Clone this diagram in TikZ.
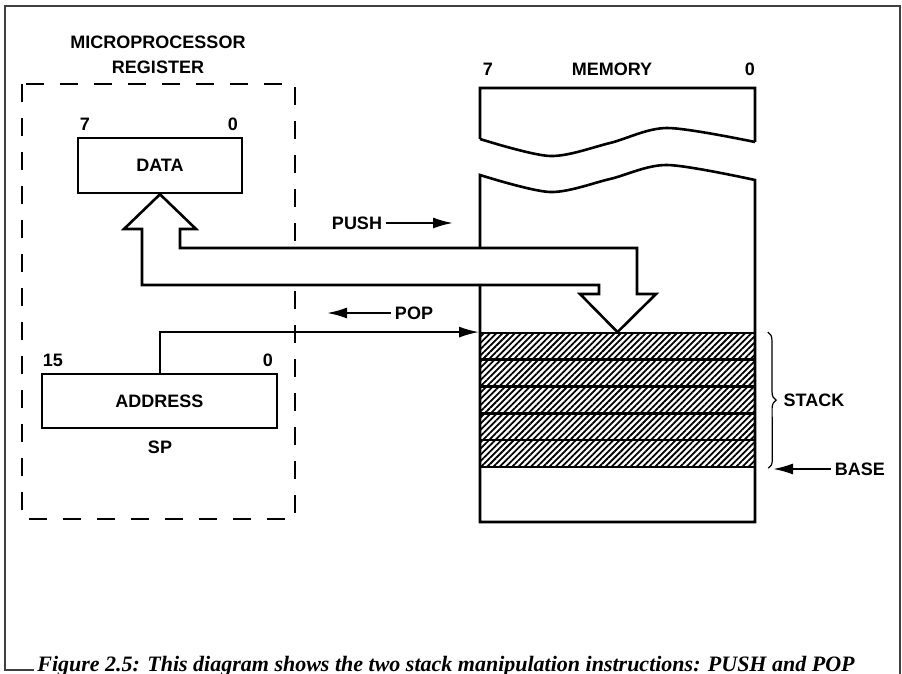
\documentclass[tikz,border=0pt]{standalone}
\usepackage{fontspec}
\setmainfont{Liberation Sans}
\newfontfamily\capfont{Liberation Serif}
\usetikzlibrary{arrows.meta,patterns.meta,decorations.pathreplacing}

\begin{document}
\begin{tikzpicture}[x=0.5pt,y=-0.5pt,
    lbl/.style={font=\fontsize{9}{12.5}\selectfont\bfseries,inner sep=2pt},
    reg/.style={draw,line width=1.3pt,inner sep=0pt,font=\fontsize{9}{11}\selectfont\bfseries},
    row/.style={draw,line width=1.3pt,minimum width=137.5pt,minimum height=13.4pt,inner sep=0pt,
      pattern={Lines[angle=45,distance=2.2pt,line width=0.9pt]}},
    arr/.style={line width=1pt,-{Latex[length=10pt,width=5.5pt]}}]
  \useasboundingbox (0,0) rectangle (902,674);
  \draw[line width=0.8pt,black!75] (34,670) -- (5,670) -- (5,6) -- (900,6) -- (900,674);
  % register side
  \node[lbl,align=center] (mpu) at (158,55) {MICROPROCESSOR\\REGISTER};
  \draw[line width=1.4pt,dash pattern=on 9pt off 8pt] (22,84) rectangle (295,519);
  \node[reg,minimum width=82pt,minimum height=27.5pt] (data) at (160,165.5) {DATA};
  \node[lbl] (d7) at (85,124) {7};
  \node[lbl] (d0) at (233,124) {0};
  \node[reg,minimum width=117.5pt,minimum height=27pt] (addr) at (159.5,401) {ADDRESS};
  \node[lbl] (a15) at (53,360) {15};
  \node[lbl] (a0) at (268,360) {0};
  \node[lbl] (sp) at (160,447) {SP};
  % memory
  \node[lbl] (mem) at (612,69) {MEMORY};
  \node[lbl] (m7) at (488,69) {7};
  \node[lbl] (m0) at (750,69) {0};
  \draw[line width=1.3pt] (755,142) -- (755,88) -- (480,88) -- (480,139)
    plot[smooth] coordinates {(480,139) (550,156) (610,143) (667,128) (755,142)};
  \draw[line width=1.3pt] plot[smooth] coordinates {(480,175) (550,192) (610,179) (667,165) (755,180)}
    -- (755,522) -- (480,522) -- cycle;
  \foreach \i in {0,...,4}
    \node[row] (row\i) at (617.5,{346.4+26.8*\i}) {};
  \draw[decorate,decoration={brace,amplitude=4pt},line width=0.6pt]
    ([xshift=6pt]row0.north east) -- ([xshift=6pt]row4.south east);
  \node[lbl] (stk) at (814,400) {STACK};
  \node[lbl] (base) at (860,469) {BASE};
  \coordinate (baseend) at (773,469);
  \draw[arr] (base.west) -- (baseend);
  % push / pop
  \node[lbl] (push) at (357,223) {PUSH};
  \coordinate (pushend) at (453,223);
  \draw[arr] (push.east) -- (pushend);
  \node[lbl] (pop) at (414,313) {POP};
  \coordinate (popend) at (327,313);
  \draw[arr] (pop.west) -- (popend);
  \draw[arr] (addr.north) |- (row0.north west);
  % data path
  \draw[line width=1.3pt,fill=white] (data.south) -- (196,229) -- (180,229) -- (180,248)
    -- (637,248) -- (637,294) -- (656,294) -- (row0.north) -- (580,294) -- (599,294)
    -- (599,285) -- (142,285) -- (142,229) -- (124,229) -- cycle;
  \node[anchor=base west,inner sep=0pt,font=\capfont\fontsize{11}{13}\bfseries\itshape] (cap) at (37,672)
    {Figure 2.5: This diagram shows the two stack manipulation instructions: PUSH and POP};
\end{tikzpicture}
\end{document}
